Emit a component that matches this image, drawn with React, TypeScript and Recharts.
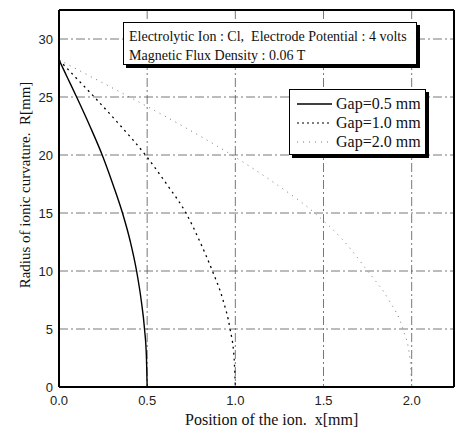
import { LineChart, Line, XAxis, YAxis, CartesianGrid, ReferenceLine } from "recharts";

const xTicks = [0, 0.5, 1.0, 1.5, 2.0];
const yTicks = [0, 5, 10, 15, 20, 25, 30];

// radius values shared by the three curves (read at the same heights)
const radius = [28.2, 26.6, 25, 22.5, 20, 17.5, 15, 12.5, 10, 7.5, 5, 2.5, 0];
const gap05X = [0, 0.05, 0.1, 0.175, 0.245, 0.305, 0.36, 0.405, 0.44, 0.466, 0.485, 0.496, 0.5];
const gap10X = [0, 0.1, 0.2, 0.35, 0.49, 0.61, 0.72, 0.8, 0.87, 0.93, 0.97, 0.993, 1.0];
const gap20X = [0, 0.2, 0.4, 0.7, 0.98, 1.23, 1.45, 1.62, 1.75, 1.87, 1.95, 1.99, 2.0];

const toRows = (xs: number[]) => xs.map((x, i) => ({ x, r: radius[i] }));

const serif = '"Liberation Serif", "Times New Roman", serif';
const sans = '"Liberation Sans", Arial, sans-serif';

const legendItems = [
  { label: "Gap=0.5 mm", stroke: "#000", dash: undefined as string | undefined, w: 1.3 },
  { label: "Gap=1.0 mm", stroke: "#000", dash: "2 3", w: 1.2 },
  { label: "Gap=2.0 mm", stroke: "#777", dash: "1 5", w: 1 },
];

export default function App() {
  return (
    <div style={{ position: "absolute", left: 0, top: 0, width: 456, height: 434, background: "#fff" }}>
      <LineChart width={456} height={434} margin={{ top: 10, right: 2, left: 0, bottom: 0 }}>
        <CartesianGrid stroke="#555" strokeDasharray="9 3 2 3" strokeWidth={0.8} />
        <XAxis
          type="number"
          dataKey="x"
          domain={[0, 2.24]}
          ticks={xTicks}
          tickFormatter={(v: number) => v.toFixed(1)}
          allowDataOverflow
          height={47}
          axisLine={{ stroke: "#000", strokeWidth: 2 }}
          tickLine={false}
          tickSize={0}
          tickMargin={9}
          tick={{ fill: "#222", fontSize: 13, fontFamily: sans }}
        />
        <YAxis
          type="number"
          dataKey="r"
          domain={[0, 32.5]}
          ticks={yTicks}
          allowDataOverflow
          width={59}
          axisLine={{ stroke: "#000", strokeWidth: 2 }}
          tickLine={false}
          tickSize={0}
          tickMargin={6}
          tick={{ fill: "#222", fontSize: 13, fontFamily: sans }}
        />
        <ReferenceLine y={32.5} stroke="#000" strokeWidth={2} />
        <ReferenceLine x={2.24} stroke="#000" strokeWidth={2} />
        <Line data={toRows(gap20X)} dataKey="r" type="monotone" stroke="#777" strokeWidth={1} strokeDasharray="1 5" dot={false} isAnimationActive={false} />
        <Line data={toRows(gap10X)} dataKey="r" type="monotone" stroke="#000" strokeWidth={1.3} strokeDasharray="2 4" dot={false} isAnimationActive={false} />
        <Line data={toRows(gap05X)} dataKey="r" type="monotone" stroke="#000" strokeWidth={1.4} dot={false} isAnimationActive={false} />
      </LineChart>

      {/* condition box */}
      <div
        style={{
          position: "absolute", left: 123, top: 22, width: 294, height: 43, boxSizing: "border-box",
          border: "1px solid #000", background: "#fff", boxShadow: "3px 3px 0 #000",
          fontFamily: serif, fontSize: 14, color: "#111", padding: "4px 0 0 5px", lineHeight: "19px", whiteSpace: "nowrap",
        }}
      >
        <div>Electrolytic Ion : Cl,&nbsp; Electrode Potential : 4 volts</div>
        <div>Magnetic Flux Density : 0.06 T</div>
      </div>

      {/* legend */}
      <div
        style={{
          position: "absolute", left: 289, top: 89, width: 137, height: 66, boxSizing: "border-box",
          border: "1px solid #000", background: "#fff", boxShadow: "3px 3px 0 #000",
          fontFamily: serif, fontSize: 16, color: "#111", padding: "4px 0 0 7px", whiteSpace: "nowrap",
        }}
      >
        {legendItems.map((it) => (
          <div key={it.label} style={{ display: "flex", alignItems: "center", height: 19 }}>
            <svg width={35} height={4} style={{ marginRight: 4 }}>
              <line x1={0} y1={2} x2={35} y2={2} stroke={it.stroke} strokeWidth={it.w} strokeDasharray={it.dash} />
            </svg>
            <span>{it.label}</span>
          </div>
        ))}
      </div>

      {/* axis titles */}
      <div
        style={{
          position: "absolute", left: 185, top: 411, fontFamily: serif, fontSize: 16, color: "#111", whiteSpace: "nowrap",
        }}
      >
        Position of the ion.&nbsp; x[mm]
      </div>
      <div
        style={{
          position: "absolute", left: 25, top: 185, transform: "translate(-50%, -50%) rotate(-90deg)",
          fontFamily: serif, fontSize: 15, color: "#111", whiteSpace: "nowrap",
        }}
      >
        Radius of ionic curvature.&nbsp; R[mm]
      </div>
    </div>
  );
}
